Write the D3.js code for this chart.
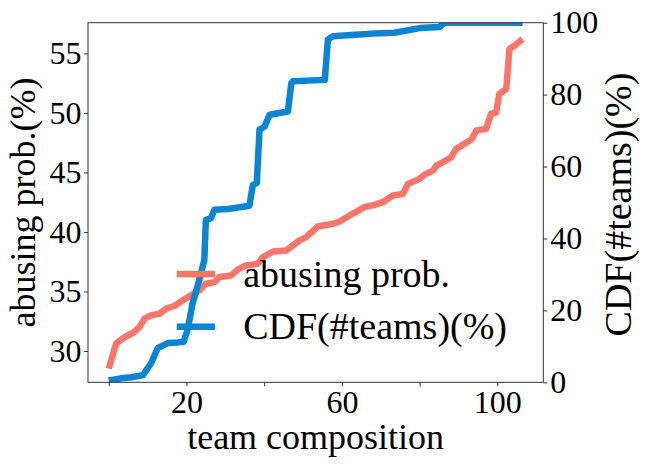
<!DOCTYPE html>
<html>
<head>
<meta charset="utf-8">
<script src="https://cdn.jsdelivr.net/npm/d3@7"></script>
<style>
  body { margin: 0; background: #fff; }
  svg text { font-family: "Liberation Serif", "Times New Roman", serif; fill: #000; }
</style>
</head>
<body>
<svg id="chart"></svg>
<script>
// abusing probability (left axis) vs team composition
const teamComp = [0, 1.9, 4.1, 6.2, 7.9, 9.2, 10.9, 13.1, 14.8, 16.9, 19.0, 21.2, 23.3, 25.0, 27.2,
  28.5, 31.5, 33.2, 35.3, 38.3, 39.7, 42.3, 45.7, 47.4, 49.1, 50.8, 53.8, 57.7, 59.4, 62.0,
  65.8, 68.4, 70.5, 73.1, 75.7, 77.0, 80.0, 81.3, 83.4, 84.3, 86.0, 88.1, 89.4, 91.5, 93.3,
  94.6, 97.1, 98.4, 99.7, 100.5, 102.3, 103.1, 104.4, 106.5];
const abuseProb = [28.52, 30.62, 31.17, 31.51, 32.01, 32.72, 33.0, 33.14, 33.56, 33.78, 34.25, 34.67, 35.09, 35.65, 35.79,
  36.21, 36.35, 36.83, 37.19, 37.33, 37.89, 38.36, 38.45, 38.87, 39.29, 39.56, 40.46, 40.69, 40.88, 41.38,
  42.08, 42.28, 42.5, 43.06, 43.2, 44.04, 44.46, 44.82, 45.16, 45.58, 45.86, 46.28, 46.98, 47.4, 47.76,
  48.52, 48.66, 49.92, 50.05, 51.59, 52.01, 55.37, 55.65, 56.21];

// CDF of #teams (right axis)
const cdfComp = [0, 3.2, 5.8, 8.8, 10.9, 12.6, 15.2, 17.8, 19.3, 20.3, 21.6, 23.3, 24.6, 25.0, 26.3,
  27.2, 30.6, 33.3, 36.2, 37.1, 38.1, 38.8, 40.1, 41.4, 46.1, 47.0, 47.4, 55.6, 56.4, 57.7,
  64.5, 69.7, 73.5, 80.0, 85.1, 86.4, 106.5];
const cdfTeams = [0.5, 1.1, 1.4, 2.0, 5.3, 9.5, 10.9, 11.1, 11.3, 14.6, 22.0, 28.5, 34.0, 45.2, 45.6,
  48.0, 48.2, 48.6, 49.1, 54.9, 55.4, 70.2, 71.1, 74.4, 75.3, 83.2, 83.7, 84.1, 95.3, 96.2,
  96.7, 97.1, 97.2, 98.5, 98.8, 100, 100];

const xTicks = [0, 20, 40, 60, 80, 100];
const xTickLabels = ["", "20", "", "60", "", "100"];
const leftTicks = [30, 35, 40, 45, 50, 55];
const rightTicks = [0, 20, 40, 60, 80, 100];
const seriesNames = ["abusing prob.", "CDF(#teams)(%)"];

const config = {
  width: 648, height: 471,
  left: 88, right: 543.3, top: 22.7, bottom: 382.3,
  red: "#fe766b", blue: "#0a84d3"
};

const svg = d3.select("#chart")
  .attr("width", config.width)
  .attr("height", config.height);

const x = d3.scaleLinear().domain([-5.33, 111.83]).range([config.left, config.right]);
const yLeft = d3.scaleLinear().domain([27.37, 57.58]).range([config.bottom, config.top]);
const yRight = d3.scaleLinear().domain([0, 100]).range([config.bottom, config.top]);

svg.append("clipPath").attr("id", "plotclip")
  .append("rect")
  .attr("x", config.left).attr("y", config.top)
  .attr("width", config.right - config.left)
  .attr("height", config.bottom - config.top);

const plot = svg.append("g").attr("clip-path", "url(#plotclip)");

const redLine = d3.line().x(d => x(d[0])).y(d => yLeft(d[1]));
const blueLine = d3.line().x(d => x(d[0])).y(d => yRight(d[1]));

plot.append("path")
  .datum(d3.zip(teamComp, abuseProb))
  .attr("d", redLine)
  .attr("fill", "none")
  .attr("stroke", config.red)
  .attr("stroke-width", 6.5)
  .attr("stroke-linejoin", "round");

plot.append("path")
  .datum(d3.zip(cdfComp, cdfTeams))
  .attr("d", blueLine)
  .attr("fill", "none")
  .attr("stroke", config.blue)
  .attr("stroke-width", 6.5)
  .attr("stroke-linejoin", "round");

// axes
const xAxis = d3.axisBottom(x).tickValues(xTicks)
  .tickFormat((d, i) => xTickLabels[i]).tickSize(4).tickPadding(4.3);
const leftAxis = d3.axisLeft(yLeft).tickValues(leftTicks).tickSize(4).tickPadding(2.5);
const rightAxis = d3.axisRight(yRight).tickValues(rightTicks).tickSize(4).tickPadding(3);

function styleAxis(g) {
  g.select(".domain").remove();
  g.selectAll(".tick line").attr("stroke", "#333").attr("stroke-width", 1);
  g.selectAll(".tick text").style("font-size", "32px").attr("fill", "#000");
}

svg.append("g").attr("transform", `translate(0,${config.bottom})`).call(xAxis).call(styleAxis);
svg.append("g").attr("transform", `translate(${config.left},0)`).call(leftAxis).call(styleAxis);
svg.append("g").attr("transform", `translate(${config.right},0)`).call(rightAxis).call(styleAxis);

// frame
svg.append("rect")
  .attr("x", config.left).attr("y", config.top)
  .attr("width", config.right - config.left)
  .attr("height", config.bottom - config.top)
  .attr("fill", "none")
  .attr("stroke", "#333")
  .attr("stroke-width", 1);

// axis titles
svg.append("text")
  .attr("transform", `translate(35,${(config.top + config.bottom) / 2}) rotate(-90)`)
  .attr("text-anchor", "middle")
  .style("font-size", "36px")
  .text("abusing prob.(%)");

svg.append("text")
  .attr("transform", `translate(631,${(config.top + config.bottom) / 2 + 2}) rotate(-90)`)
  .attr("text-anchor", "middle")
  .style("font-size", "38px")
  .text("CDF(#teams)(%)");

svg.append("text")
  .attr("x", (config.left + config.right) / 2)
  .attr("y", 449)
  .attr("text-anchor", "middle")
  .style("font-size", "36px")
  .text("team composition");

// legend
const legend = svg.append("g").attr("transform", "translate(176.7,274)");
const legendColors = [config.red, config.blue];
seriesNames.forEach((name, i) => {
  const row = legend.append("g").attr("transform", `translate(0,${i * 52.7})`);
  row.append("line")
    .attr("x1", 0).attr("x2", 38.3)
    .attr("stroke", legendColors[i])
    .attr("stroke-width", 6.5);
  row.append("text")
    .attr("x", 66.5).attr("y", 12.7)
    .style("font-size", "38px")
    .text(name);
});
</script>
</body>
</html>
